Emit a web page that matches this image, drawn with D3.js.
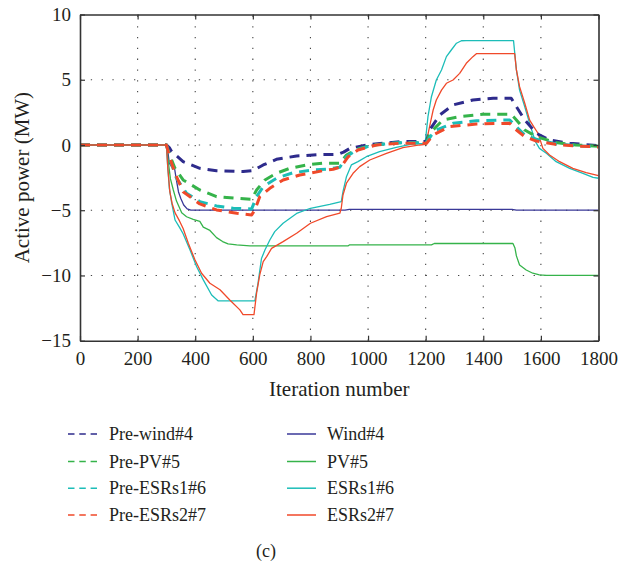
<!DOCTYPE html>
<html>
<head>
<meta charset="utf-8">
<script src="https://cdn.jsdelivr.net/npm/d3@7"></script>
<style>
  html, body { margin: 0; padding: 0; background: #fff; }
  svg { display: block; }
  text { font-family: "Liberation Serif", "DejaVu Serif", serif; fill: #231f20; }
</style>
</head>
<body>
<svg id="chart" width="619" height="567"></svg>
<script>
// Tick values
const xTicks = [0, 200, 400, 600, 800, 1000, 1200, 1400, 1600, 1800];
const yTicks = [-15, -10, -5, 0, 5, 10];

// Series names, in legend order
const categories = ["Pre-wind#4", "Pre-PV#5", "Pre-ESRs1#6", "Pre-ESRs2#7",
                    "Wind#4", "PV#5", "ESRs1#6", "ESRs2#7"];

// Active power (MW) against iteration number, as [iteration, value]
const preWind4 = [[0,0],[300,0],[310,-0.2],[318,-0.5],[358,-1.28],[416,-1.79],[474,-1.97],[566,-2.04],[601,-1.97],[636,-1.53],[682,-1.1],[752,-0.84],[833,-0.74],[895,-0.72],[915,-0.55],[937,-0.26],[994,0.0],[1110,0.26],[1203,0.26],[1214,1.15],[1249,2.3],[1295,3.07],[1364,3.45],[1434,3.58],[1497,3.58],[1515,2.93],[1544,1.92],[1584,0.9],[1630,0.38],[1700,0.13],[1800,-0.05]];
const prePv5 = [[0,0],[300,0],[312,-0.8],[330,-1.8],[358,-2.68],[416,-3.45],[474,-3.96],[544,-4.08],[596,-4.16],[613,-3.45],[642,-2.68],[682,-2.17],[728,-1.79],[786,-1.53],[844,-1.4],[902,-1.4],[925,-0.77],[960,-0.33],[1017,0.0],[1110,0.18],[1203,0.18],[1214,0.9],[1260,1.92],[1318,2.17],[1399,2.35],[1497,2.35],[1515,1.92],[1544,1.15],[1584,0.64],[1650,0.2],[1720,0.0],[1800,-0.1]];
const preEsrs1 = [[0,0],[300,0],[315,-1.3],[335,-2.55],[370,-3.7],[416,-4.34],[474,-4.67],[532,-4.85],[596,-4.9],[613,-3.96],[636,-3.2],[682,-2.55],[740,-2.12],[809,-1.92],[856,-1.86],[902,-1.71],[925,-0.9],[960,-0.38],[1017,0.0],[1110,0.18],[1203,0.18],[1220,0.75],[1237,1.15],[1295,1.66],[1376,1.86],[1492,1.92],[1515,1.4],[1544,0.77],[1584,0.44],[1650,0.1],[1720,-0.05],[1800,-0.15]];
const preEsrs2 = [[0,0],[300,0],[312,-1.0],[330,-2.17],[358,-3.58],[416,-4.52],[474,-4.98],[544,-5.23],[596,-5.36],[607,-4.98],[624,-3.96],[659,-3.32],[705,-2.68],[763,-2.3],[844,-1.97],[879,-1.86],[907,-1.66],[931,-0.9],[965,-0.38],[1029,0.0],[1110,0.13],[1203,0.13],[1226,0.77],[1283,1.4],[1376,1.61],[1492,1.66],[1515,1.15],[1544,0.64],[1584,0.3],[1650,0.05],[1720,-0.08],[1800,-0.15]];

const wind4 = [[0,0],[300,0],[304,-0.3],[310,-1.4],[318,-1.65],[328,-1.75],[334,-2.6],[342,-3.6],[350,-4.1],[360,-4.6],[372,-4.9],[385,-5.0],[920,-5.0],[935,-4.93],[1500,-4.93],[1515,-5.0],[1800,-5.0]];
const pv5 = [[0,0],[300,0],[306,-1.2],[314,-2.6],[324,-3.45],[335,-4.3],[345,-4.8],[353,-5.2],[370,-5.5],[393,-5.7],[416,-5.85],[428,-6.3],[451,-6.55],[474,-7.1],[495,-7.4],[514,-7.58],[544,-7.66],[590,-7.74],[930,-7.74],[935,-7.66],[1220,-7.66],[1230,-7.55],[1503,-7.55],[1510,-7.9],[1515,-8.5],[1526,-9.2],[1549,-9.58],[1572,-9.83],[1595,-9.96],[1620,-10.0],[1800,-10.0]];
const esrs1 = [[0,0],[300,0],[304,-1.5],[310,-3.3],[318,-4.4],[330,-5.75],[345,-6.3],[358,-6.8],[382,-8.05],[405,-9.33],[428,-10.34],[457,-11.5],[480,-11.95],[607,-11.95],[618,-10.6],[630,-8.7],[642,-8.05],[659,-7.28],[676,-6.64],[705,-6.0],[752,-5.25],[800,-4.85],[867,-4.55],[907,-4.34],[913,-3.58],[925,-2.43],[942,-1.53],[965,-1.28],[994,-0.9],[1040,-0.51],[1098,-0.18],[1156,0.08],[1197,0.13],[1200,0.5],[1208,2.17],[1220,3.7],[1237,4.98],[1255,5.75],[1272,6.77],[1289,7.28],[1307,7.8],[1324,7.99],[1340,8.0],[1505,8.0],[1515,5.75],[1526,4.2],[1544,2.93],[1561,1.66],[1580,0.3],[1595,-0.26],[1619,-0.64],[1653,-1.28],[1700,-1.79],[1746,-2.17],[1781,-2.48],[1800,-2.55]];
const esrs2 = [[0,0],[300,0],[305,-1.8],[312,-3.6],[320,-4.5],[330,-5.2],[345,-5.8],[358,-6.4],[376,-7.53],[399,-8.8],[422,-9.83],[451,-10.6],[486,-11.1],[520,-11.88],[555,-12.64],[566,-13.0],[604,-13.0],[613,-11.36],[624,-9.96],[636,-8.94],[648,-8.56],[665,-7.92],[705,-7.41],[752,-6.77],[800,-6.0],[856,-5.49],[902,-5.23],[907,-4.85],[913,-3.83],[925,-2.93],[948,-2.17],[971,-1.66],[1006,-1.15],[1064,-0.64],[1121,-0.2],[1179,0.0],[1200,0.05],[1205,0.5],[1216,1.66],[1226,2.68],[1237,3.45],[1255,4.2],[1272,4.73],[1295,4.98],[1318,5.49],[1341,6.26],[1364,6.77],[1376,7.0],[1509,7.0],[1515,5.75],[1526,4.47],[1544,3.2],[1561,1.9],[1575,1.4],[1590,0.9],[1607,-0.26],[1630,-0.77],[1665,-1.28],[1711,-1.79],[1757,-2.12],[1800,-2.35]];

const colors = {
  wind: "#2e2b8c",
  windSolid: "#3a3898",
  pv: "#35b34a",
  esrs1: "#1cbdb8",
  esrs2: "#f0492a"
};

const series = [
  { name: categories[4], data: wind4,    color: colors.windSolid, dashed: false },
  { name: categories[5], data: pv5,      color: colors.pv,        dashed: false },
  { name: categories[6], data: esrs1,    color: colors.esrs1,     dashed: false },
  { name: categories[7], data: esrs2,    color: colors.esrs2,     dashed: false },
  { name: categories[0], data: preWind4, color: colors.wind,      dashed: true },
  { name: categories[1], data: prePv5,   color: colors.pv,        dashed: true },
  { name: categories[2], data: preEsrs1, color: colors.esrs1,     dashed: true },
  { name: categories[3], data: preEsrs2, color: colors.esrs2,     dashed: true }
];

const plot = { left: 80, right: 598.5, top: 14.5, bottom: 340.7 };

const svg = d3.select("#chart");

const x = d3.scaleLinear().domain([0, 1800]).range([plot.left, plot.right]);
const y = d3.scaleLinear().domain([-15, 10]).range([plot.bottom, plot.top]);

// dotted grid
const grid = svg.append("g").attr("class", "grid")
  .attr("stroke", "#444").attr("stroke-width", 1.1).attr("stroke-dasharray", "1.3,9.5");
grid.selectAll("line.v").data(xTicks.slice(1, -1)).join("line").attr("class", "v")
  .attr("x1", d => x(d)).attr("x2", d => x(d))
  .attr("y1", plot.bottom).attr("y2", plot.top);
grid.selectAll("line.h").data(yTicks.slice(1, -1)).join("line").attr("class", "h")
  .attr("x1", plot.left).attr("x2", plot.right)
  .attr("y1", d => y(d)).attr("y2", d => y(d));

// series lines
svg.append("clipPath").attr("id", "clip").append("rect")
  .attr("x", plot.left).attr("y", plot.top)
  .attr("width", plot.right - plot.left).attr("height", plot.bottom - plot.top);

const line = d3.line().x(d => x(d[0])).y(d => y(d[1])).curve(d3.curveLinear);

const lines = svg.append("g").attr("clip-path", "url(#clip)");
lines.selectAll("path").data(series).join("path")
  .attr("d", d => line(d.data))
  .attr("fill", "none")
  .attr("stroke", d => d.color)
  .attr("stroke-width", d => d.dashed ? 3 : 1.3)
  .attr("stroke-dasharray", d => d.dashed ? "10,7" : null)
  .attr("stroke-linejoin", "round");

// axes: ticks inside on all four sides, labels on bottom and left
const tickFont = 19;
const axisColor = "#333";
const fmt = d3.format("d");

const gx = svg.append("g").attr("transform", `translate(0,${plot.bottom})`)
  .call(d3.axisBottom(x).tickValues(xTicks).tickFormat(fmt).tickSize(-5).tickPadding(11).tickSizeOuter(0));
const gy = svg.append("g").attr("transform", `translate(${plot.left},0)`)
  .call(d3.axisLeft(y).tickValues(yTicks).tickFormat(fmt).tickSize(-5).tickPadding(9).tickSizeOuter(0));
const gt = svg.append("g").attr("transform", `translate(0,${plot.top})`)
  .call(d3.axisTop(x).tickValues(xTicks).tickSize(-5).tickFormat("").tickSizeOuter(0));
const gr = svg.append("g").attr("transform", `translate(${plot.right},0)`)
  .call(d3.axisRight(y).tickValues(yTicks).tickSize(-5).tickFormat("").tickSizeOuter(0));

[gx, gy, gt, gr].forEach(g => {
  g.select(".domain").attr("stroke", axisColor).attr("stroke-width", 1.6);
  g.selectAll(".tick line").attr("stroke", axisColor).attr("stroke-width", 1.2);
  g.selectAll(".tick text").attr("font-size", tickFont)
    .attr("font-family", "'Liberation Serif', serif").attr("fill", "#231f20");
});

// axis titles
svg.append("text")
  .attr("x", (plot.left + plot.right) / 2).attr("y", 396)
  .attr("text-anchor", "middle").attr("font-size", 21)
  .text("Iteration number");

svg.append("text")
  .attr("transform", `translate(28.5,${(plot.top + plot.bottom) / 2}) rotate(-90)`)
  .attr("text-anchor", "middle").attr("font-size", 21)
  .text("Active power (MW)");

// legend: two columns, dashed series on the left, solid on the right
const legendRows = [434, 461.5, 488.2, 515];
const legendItems = [
  { name: categories[0], color: colors.wind,      dashed: true,  col: 0, row: 0 },
  { name: categories[1], color: colors.pv,        dashed: true,  col: 0, row: 1 },
  { name: categories[2], color: colors.esrs1,     dashed: true,  col: 0, row: 2 },
  { name: categories[3], color: colors.esrs2,     dashed: true,  col: 0, row: 3 },
  { name: categories[4], color: colors.windSolid, dashed: false, col: 1, row: 0 },
  { name: categories[5], color: colors.pv,        dashed: false, col: 1, row: 1 },
  { name: categories[6], color: colors.esrs1,     dashed: false, col: 1, row: 2 },
  { name: categories[7], color: colors.esrs2,     dashed: false, col: 1, row: 3 }
];
const legendCols = [{ x0: 68, x1: 97, tx: 109 }, { x0: 287, x1: 316, tx: 327 }];

const legend = svg.append("g").attr("class", "legend");
const item = legend.selectAll("g").data(legendItems).join("g")
  .attr("transform", d => `translate(0,${legendRows[d.row]})`);
item.append("line")
  .attr("x1", d => legendCols[d.col].x0).attr("x2", d => legendCols[d.col].x1)
  .attr("y1", 0).attr("y2", 0)
  .attr("stroke", d => d.color)
  .attr("stroke-width", 1.5)
  .attr("stroke-dasharray", d => d.dashed ? "6.5,4.8" : null);
item.append("text")
  .attr("x", d => legendCols[d.col].tx).attr("y", 6)
  .attr("font-size", 18)
  .text(d => d.name);

// panel label
svg.append("text")
  .attr("x", 266).attr("y", 557)
  .attr("text-anchor", "middle").attr("font-size", 18)
  .text("(c)");
</script>
</body>
</html>
